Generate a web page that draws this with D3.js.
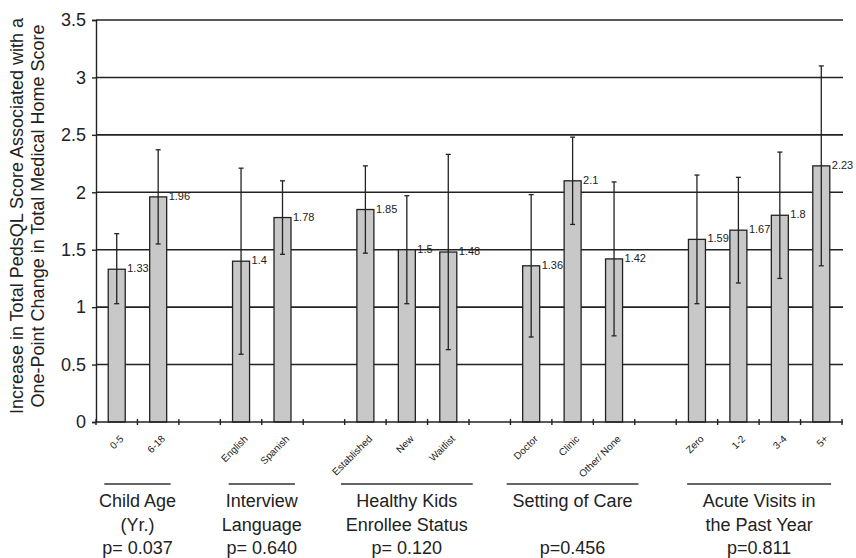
<!DOCTYPE html>
<html lang="en">
<head>
<meta charset="UTF-8">
<script src="https://d3js.org/d3.v7.min.js"></script>
<title>PedsQL vs Medical Home</title>
<style>
  body { margin: 0; background: #fff; }
  text { font-family: "Liberation Sans", Arial, sans-serif; fill: #222; }
</style>
</head>
<body>
<svg width="856" height="558"></svg>
<script>
// data
const groupNames = ["Child Age (Yr.)", "Interview Language", "Healthy Kids Enrollee Status", "Setting of Care", "Acute Visits in the Past Year"];
const groupLines = [["Child Age", "(Yr.)"], ["Interview", "Language"], ["Healthy Kids", "Enrollee Status"], ["Setting of Care"], ["Acute Visits in", "the Past Year"]];
const pValues = ["p= 0.037", "p= 0.640", "p= 0.120", "p=0.456", "p=0.811"];
const groupCats = [
  ["0-5", "6-18"],
  ["English", "Spanish"],
  ["Established", "New", "Waitlist"],
  ["Doctor", "Clinic", "Other/ None"],
  ["Zero", "1-2", "3-4", "5+"]
];
const values = [1.33, 1.96, 1.4, 1.78, 1.85, 1.5, 1.48, 1.36, 2.1, 1.42, 1.59, 1.67, 1.8, 2.23];
const lower  = [1.03, 1.55, 0.59, 1.46, 1.47, 1.03, 0.63, 0.74, 1.72, 0.75, 1.03, 1.21, 1.25, 1.36];
const upper  = [1.64, 2.37, 2.21, 2.10, 2.23, 1.97, 2.33, 1.98, 2.48, 2.09, 2.15, 2.13, 2.35, 3.10];
const yTicks = [0, 0.5, 1, 1.5, 2, 2.5, 3, 3.5];

const svg = d3.select('svg');
const plotL = 96, plotR = 842, plotT = 20, plotB = 422;

// slots: categories with one empty slot between groups
let slots = [];
groupCats.forEach((cats, i) => {
  cats.forEach(c => slots.push(c));
  if (i < groupCats.length - 1) slots.push('gap' + i);
});
const cats = groupCats.flat();
const data = cats.map((c, i) => ({ cat: c, value: values[i], lo: lower[i], hi: upper[i] }));

const x = d3.scaleBand().domain(slots).range([plotL, plotR]).padding(0);
const y = d3.scaleLinear().domain([0, 3.5]).range([plotB, plotT]);
const barW = 17;

// gridlines
svg.append('g').selectAll('line')
  .data(yTicks.filter(t => t > 0))
  .enter().append('line')
  .attr('x1', plotL).attr('x2', plotR + 1)
  .attr('y1', d => y(d)).attr('y2', d => y(d))
  .attr('stroke', '#222').attr('stroke-width', 1.6);

// y axis
const yAxis = svg.append('g')
  .attr('transform', `translate(${plotL},0)`)
  .call(d3.axisLeft(y).tickValues(yTicks).tickSize(4).tickFormat(d => d));
yAxis.select('.domain').attr('stroke', '#222').attr('stroke-width', 1.4);
yAxis.selectAll('.tick line').attr('stroke', '#222').attr('stroke-width', 1.4);
yAxis.selectAll('.tick text')
  .attr('x', -10)
  .style('font-size', '18px')
  .style('font-family', '"Liberation Sans", Arial, sans-serif')
  .attr('fill', '#222');

// bars
svg.append('g').selectAll('rect')
  .data(data)
  .enter().append('rect')
  .attr('x', d => x(d.cat) + x.bandwidth() / 2 - barW / 2)
  .attr('y', d => y(d.value))
  .attr('width', barW)
  .attr('height', d => y(0) - y(d.value))
  .attr('fill', '#c8c8c8')
  .attr('stroke', '#222')
  .attr('stroke-width', 1.3);

// error bars
const eb = svg.append('g').attr('stroke', '#222').attr('stroke-width', 1.3);
data.forEach(d => {
  const cx = x(d.cat) + x.bandwidth() / 2;
  eb.append('line').attr('x1', cx).attr('x2', cx).attr('y1', y(d.lo)).attr('y2', y(d.hi));
  eb.append('line').attr('x1', cx - 2.5).attr('x2', cx + 2.5).attr('y1', y(d.lo)).attr('y2', y(d.lo));
  eb.append('line').attr('x1', cx - 2.5).attr('x2', cx + 2.5).attr('y1', y(d.hi)).attr('y2', y(d.hi));
});

// value labels
svg.append('g').selectAll('text')
  .data(data)
  .enter().append('text')
  .attr('x', d => x(d.cat) + x.bandwidth() / 2 + barW / 2 + 2)
  .attr('y', d => y(d.value) + 3)
  .style('font-size', '11px')
  .text(d => String(d.value));

// x axis line with crossing ticks at slot boundaries
svg.append('line')
  .attr('x1', plotL).attr('x2', plotR + 1)
  .attr('y1', plotB).attr('y2', plotB)
  .attr('stroke', '#222').attr('stroke-width', 1.6);
const bounds = slots.map(s => x(s)).concat([plotR]);
svg.append('g').selectAll('line')
  .data(bounds)
  .enter().append('line')
  .attr('x1', d => d).attr('x2', d => d)
  .attr('y1', plotB - 3).attr('y2', plotB + 3)
  .attr('stroke', '#222').attr('stroke-width', 1.4);

// category labels, rotated
svg.append('g').selectAll('text')
  .data(cats)
  .enter().append('text')
  .attr('transform', d => `translate(${x(d) + x.bandwidth() / 2 + 5},${plotB + 15}) rotate(-45)`)
  .attr('text-anchor', 'end')
  .attr('dy', '0.35em')
  .style('font-size', '10px')
  .text(d => d);

// group labels below
const gl = svg.append('g');
groupCats.forEach((cs, i) => {
  const x0 = x(cs[0]);
  const x1 = x(cs[cs.length - 1]) + x.bandwidth();
  const span = x1 - x0;
  const cx = (x0 + x1) / 2;
  const lw = Math.min(144, cs.length < 3 ? span * 0.8 : span * 1.06);
  gl.append('line')
    .attr('x1', cx - lw / 2).attr('x2', cx + lw / 2)
    .attr('y1', 484).attr('y2', 484)
    .attr('stroke', '#333').attr('stroke-width', 1.4);
  groupLines[i].forEach((t, j) => {
    gl.append('text')
      .attr('x', cx).attr('y', 507 + j * 23.5)
      .attr('text-anchor', 'middle')
      .style('font-size', '18px')
      .text(t);
  });
  gl.append('text')
    .attr('x', cx).attr('y', 554)
    .attr('text-anchor', 'middle')
    .style('font-size', '18px')
    .text(pValues[i]);
});

// y axis title
const yt = svg.append('text')
  .attr('transform', 'translate(23,216) rotate(-90)')
  .attr('text-anchor', 'middle')
  .style('font-size', '18px');
yt.append('tspan').attr('x', 0).attr('y', 0).text('Increase in Total PedsQL Score Associated with a');
yt.append('tspan').attr('x', 0).attr('y', 21).text('One-Point Change in Total Medical Home Score');
</script>
</body>
</html>
